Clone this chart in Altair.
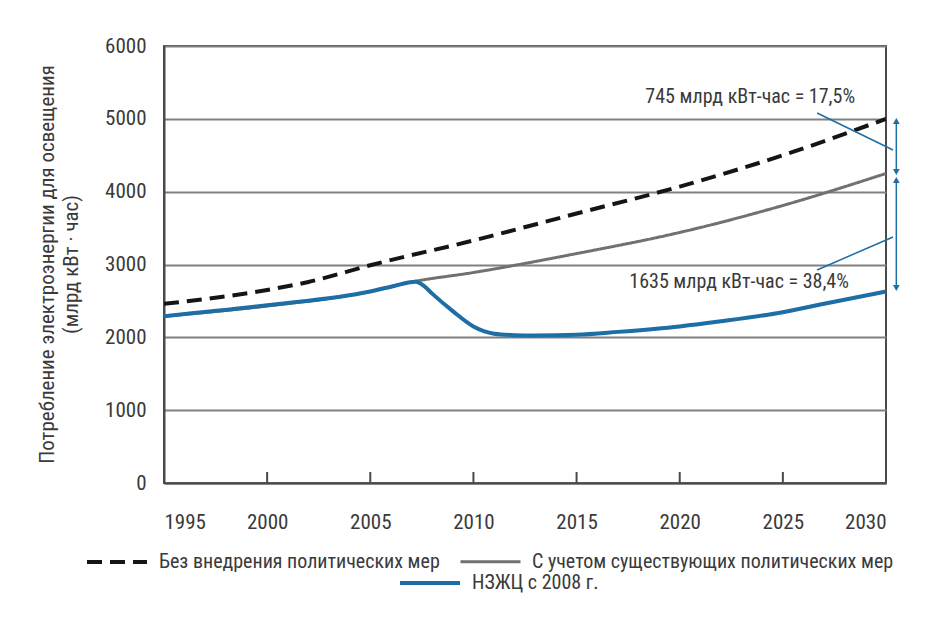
import altair as alt
import pandas as pd

# ---- data ----
series_names = ["Без внедрения политических мер",
                "С учетом существующих политических мер",
                "НЗЖЦ с 2008 г."]

dash_years = [1995, 2000, 2002, 2005, 2010, 2015, 2020, 2025, 2030]
dash_vals = [2460, 2650, 2760, 2990, 3330, 3700, 4070, 4500, 5000]

gray_years = [1995, 2000, 2005, 2007, 2010, 2015, 2020, 2025, 2030]
gray_vals = [2290, 2430, 2630, 2760, 2890, 3150, 3440, 3810, 4250]

blue_years = [1995, 2000, 2005, 2006, 2007.2, 2007.6, 2008, 2009, 2010, 2010.5, 2011, 2012,
              2013, 2015, 2017, 2020, 2022, 2025, 2027, 2030]
blue_vals = [2290, 2440, 2630, 2695, 2762, 2705, 2600, 2360, 2150, 2085, 2050, 2030,
             2025, 2035, 2075, 2150, 2220, 2345, 2460, 2630]

x_ticks = [1995, 2000, 2005, 2010, 2015, 2020, 2025, 2030]
inner_ticks = [2000, 2005, 2010, 2015, 2020, 2025]
y_ticks = [0, 1000, 2000, 3000, 4000, 5000, 6000]

ann_texts = ["745 млрд кВт-час = 17,5%", "1635 млрд кВт-час = 38,4%"]
ann_x = [2028.5, 2028.2]
ann_y = [5300, 2760]

# double arrows (x, top, bottom)
arrow_x = [2030.5, 2030.5]
arrow_top = [4970, 4160]
arrow_bottom = [4270, 2677]

# pointer lines from labels to arrows
ptr_x = [2026.66, 2026.66]
ptr_y = [5080, 2925]
ptr_x2 = [2030.34, 2030.34]
ptr_y2 = [4572, 3378]

y_title = ["Потребление электроэнергии для освещения", "(млрд кВт · час)"]

# ---- tables ----
df_main = pd.DataFrame({
    "year": dash_years + gray_years,
    "value": dash_vals + gray_vals,
    "series": [series_names[0]] * len(dash_years) + [series_names[1]] * len(gray_years),
})
df_blue = pd.DataFrame({"year": blue_years, "value": blue_vals,
                        "series": [series_names[2]] * len(blue_years)})
df_ticks = pd.DataFrame({"year": inner_ticks})
df_ann = pd.DataFrame({"x": ann_x, "y": ann_y, "t": ann_texts})
df_arrow = pd.DataFrame({"x": arrow_x, "top": arrow_top, "bottom": arrow_bottom})
df_ptr = pd.DataFrame({"x": ptr_x, "y": ptr_y, "x2": ptr_x2, "y2": ptr_y2})

FONT = "Liberation Sans Narrow, Roboto Condensed, DejaVu Sans Condensed, Open Sans, sans-serif"
BLUE = "#1c6ea4"
GRAY = "#717171"
BLACK = "#151515"
TXT = "#3a3a3a"

x_scale = alt.Scale(domain=[1995, 2030], nice=False, zero=False)
y_scale = alt.Scale(domain=[0, 6000], nice=False)

x_axis = alt.Axis(values=x_ticks, format="d", title=None, grid=False, ticks=False,
                  domain=True, domainColor="#4a4a4a", domainWidth=2,
                  labelPadding=28, labelFontSize=21, labelColor=TXT, labelFont=FONT)
y_axis = alt.Axis(values=y_ticks, format="d", title=y_title, grid=True,
                  gridColor="#808080", gridWidth=2, ticks=False,
                  domain=True, domainColor="#4a4a4a", domainWidth=2,
                  labelPadding=18, labelFontSize=21, labelColor=TXT, labelFont=FONT,
                  titleFont=FONT, titleFontSize=21, titleFontWeight="normal",
                  titleColor=TXT, titleAngle=270, titleX=-128, titleY=218,
                  titleBaseline="top", titleAlign="center", titleLineHeight=24)

leg_common = dict(orient="none", direction="horizontal", title=None,
                  symbolType="stroke", symbolSize=3600, symbolStrokeWidth=4,
                  labelFont=FONT, labelFontSize=20, labelColor=TXT,
                  labelOffset=10, columnPadding=14, padding=0, labelLimit=600)

legend1 = alt.Legend(legendX=-79, legendY=484, **leg_common)
legend2 = alt.Legend(legendX=234, legendY=505, **leg_common)

lines1 = alt.Chart(df_main).mark_line(interpolate="monotone").encode(
    x=alt.X("year:Q", scale=x_scale, axis=x_axis),
    y=alt.Y("value:Q", scale=y_scale, axis=y_axis),
    color=alt.Color("series:N", scale=alt.Scale(domain=series_names[:2], range=[BLACK, GRAY]),
                    legend=legend1),
    strokeDash=alt.StrokeDash("series:N",
                              scale=alt.Scale(domain=series_names[:2], range=[[15, 8], [1, 0]]),
                              legend=legend1),
    strokeWidth=alt.StrokeWidth("series:N",
                                scale=alt.Scale(domain=series_names[:2], range=[4, 3]),
                                legend=None),
)

lines2 = alt.Chart(df_blue).mark_line(interpolate="monotone", strokeWidth=4).encode(
    x=alt.X("year:Q", scale=x_scale),
    y=alt.Y("value:Q", scale=y_scale),
    color=alt.Color("series:N", scale=alt.Scale(domain=[series_names[2]], range=[BLUE]),
                    legend=legend2),
)

ticks = alt.Chart(df_ticks).mark_rule(color="#4a4a4a", strokeWidth=2).encode(
    x=alt.X("year:Q", scale=x_scale),
    y=alt.value(437), y2=alt.value(426),
)

arrows = alt.Chart(df_arrow).mark_rule(color=BLUE, strokeWidth=1.5).encode(
    x=alt.X("x:Q", scale=x_scale),
    y=alt.Y("top:Q", scale=y_scale), y2="bottom:Q",
)
heads_up = alt.Chart(df_arrow).mark_point(shape="triangle-up", filled=True, size=45,
                                          color=BLUE, opacity=1).encode(
    x=alt.X("x:Q", scale=x_scale), y=alt.Y("top:Q", scale=y_scale))
heads_down = alt.Chart(df_arrow).mark_point(shape="triangle-down", filled=True, size=45,
                                            color=BLUE, opacity=1).encode(
    x=alt.X("x:Q", scale=x_scale), y=alt.Y("bottom:Q", scale=y_scale))

pointers = alt.Chart(df_ptr).mark_rule(color=BLUE, strokeWidth=1.5).encode(
    x=alt.X("x:Q", scale=x_scale), y=alt.Y("y:Q", scale=y_scale),
    x2="x2:Q", y2="y2:Q",
)

labels = alt.Chart(df_ann).mark_text(align="right", baseline="middle", font=FONT,
                                     fontSize=20, color=TXT).encode(
    x=alt.X("x:Q", scale=x_scale), y=alt.Y("y:Q", scale=y_scale), text="t:N")

chart = alt.layer(lines1, lines2, ticks, arrows, heads_up, heads_down, pointers, labels).resolve_scale(
    color="independent", strokeDash="independent", strokeWidth="independent"
).resolve_legend(color="independent").properties(
    width=722, height=437,
    autosize=alt.AutoSizeParams(type="none"),
    padding={"left": 156, "top": 38, "right": 20, "bottom": 125},
    background="white",
).configure_view(stroke="#4a4a4a", strokeWidth=2)

chart.save("out.html", embed_options={"renderer": "svg", "actions": False})
